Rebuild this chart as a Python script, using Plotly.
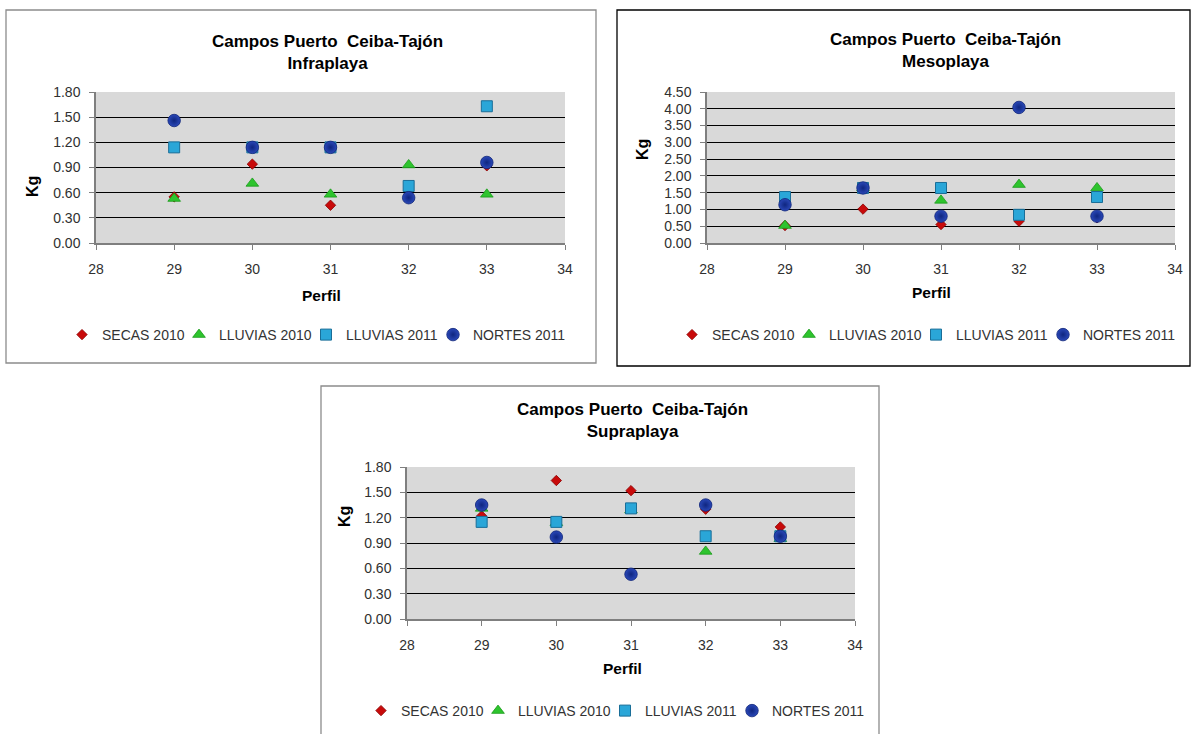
import plotly.graph_objects as go

# ---------------- data ----------------
perfil = [29, 30, 31, 32, 33]
series_names = ["SECAS 2010", "LLUVIAS 2010", "LLUVIAS 2011", "NORTES 2011"]

infra_secas_2010 = [0.55, 0.94, 0.45, 0.54, 0.92]
infra_lluvias_2010 = [0.53, 0.71, 0.58, 0.93, 0.58]
infra_lluvias_2011 = [1.14, 1.14, 1.14, 0.68, 1.63]
infra_nortes_2011 = [1.46, 1.14, 1.14, 0.54, 0.96]

meso_secas_2010 = [0.52, 1.01, 0.55, 0.65, 0.75]
meso_lluvias_2010 = [0.52, 1.64, 1.27, 1.74, 1.64]
meso_lluvias_2011 = [1.37, 1.64, 1.64, 0.84, 1.37]
meso_nortes_2011 = [1.14, 1.64, 0.80, 4.04, 0.80]

supra_secas_2010 = [1.22, 1.64, 1.52, 1.30, 1.09]
supra_lluvias_2010 = [1.31, 1.14, 1.29, 0.80, 0.95]
supra_lluvias_2011 = [1.15, 1.15, 1.31, 0.98, 0.98]
supra_nortes_2011 = [1.35, 0.97, 0.53, 1.35, 0.98]

x_ticks = [28, 29, 30, 31, 32, 33, 34]
titles = ["Infraplaya", "Mesoplaya", "Supraplaya"]
main_title = "Campos Puerto  Ceiba-Tajón"

# ---------------- layout helpers ----------------
W, H = 1195, 734
FONT = "Liberation Sans, Arial, sans-serif"


def px(x):
    return x / W


def py(y):
    return 1 - y / H


marker_styles = [
    dict(symbol="diamond", size=8, color="#C80A0A", line=dict(color="#8A0000", width=0.8)),
    dict(symbol="triangle-up", size=11, color="#2EC42E", line=dict(color="#1A9A1A", width=0.8)),
    dict(symbol="square", size=11, color="#2AA6D8", line=dict(color="#1A6E98", width=1)),
    dict(symbol="circle", size=12.5, color="#2A48B8", line=dict(color="#0F2478", width=0.8),
         gradient=dict(type="radial", color="#0F2680")),
]
# width reserved for each legend entry's label (tight spacing like the original)
legend_entry_widths = [72, 82, 82, 100]

charts = [
    dict(sfx="", data=[infra_secas_2010, infra_lluvias_2010, infra_lluvias_2011, infra_nortes_2011],
         plot=(96, 565, 92, 243), yr=(0, 1.8), dt=0.3, box=(6, 596, 10, 363), boxcol="#8C8C8C",
         title_xy=(328, 52), kg=(33, 187), perfil=(321, 296), leg=(320, 335), legname="legend"),
    dict(sfx="2", data=[meso_secas_2010, meso_lluvias_2010, meso_lluvias_2011, meso_nortes_2011],
         plot=(707, 1175, 92, 243), yr=(0, 4.5), dt=0.5, box=(617, 1190, 10, 366), boxcol="#000000",
         title_xy=(945, 51), kg=(642, 150), perfil=(932, 293), leg=(930, 335), legname="legend2"),
    dict(sfx="3", data=[supra_secas_2010, supra_lluvias_2010, supra_lluvias_2011, supra_nortes_2011],
         plot=(407, 855, 467, 619), yr=(0, 1.8), dt=0.3, box=(321, 879, 386, 745), boxcol="#8C8C8C",
         title_xy=(632, 420), kg=(344, 517), perfil=(622, 668), leg=(619, 711), legname="legend3"),
]

fig = go.Figure()
shapes = []
annotations = []
layout_axes = {}

for i, ch in enumerate(charts):
    sfx = ch["sfx"]
    for name, vals, ms, lw in zip(series_names, ch["data"], marker_styles, legend_entry_widths):
        fig.add_trace(go.Scatter(
            x=perfil, y=vals, mode="markers", name=name,
            marker=ms, xaxis="x" + sfx, yaxis="y" + sfx,
            legend=ch["legname"], showlegend=True, legendwidth=lw,
        ))
    x0, x1, y0, y1 = ch["plot"]
    layout_axes["xaxis" + sfx] = dict(
        domain=[px(x0), px(x1)], anchor="y" + sfx, range=[28, 34],
        tickvals=x_ticks, ticktext=[str(t) for t in x_ticks],
        showgrid=False, zeroline=False, showline=True, linecolor="#7F7F7F", linewidth=1.5,
        ticks="outside", ticklen=5, tickcolor="#7F7F7F", tickwidth=1.2,
        tickfont=dict(family=FONT, size=14, color="#303030"), ticklabelstandoff=7,
        fixedrange=True,
    )
    nt = int(round((ch["yr"][1] - ch["yr"][0]) / ch["dt"]))
    yt = [round(ch["yr"][0] + k * ch["dt"], 2) for k in range(nt + 1)]
    layout_axes["yaxis" + sfx] = dict(
        domain=[py(y1), py(y0)], anchor="x" + sfx, range=[ch["yr"][0], ch["yr"][1] + 1e-6],
        tickvals=yt, ticktext=["%.2f" % v for v in yt],
        showgrid=True, gridcolor="#000000", gridwidth=1.2, zeroline=False,
        showline=True, linecolor="#7F7F7F", linewidth=1.5,
        ticks="outside", ticklen=5, tickcolor="#7F7F7F", tickwidth=1.2,
        tickfont=dict(family=FONT, size=14, color="#303030"), ticklabelstandoff=6,
        fixedrange=True,
    )
    # chart border
    bx0, bx1, by0, by1 = ch["box"]
    shapes.append(dict(type="rect", xref="paper", yref="paper",
                       x0=px(bx0), x1=px(bx1), y0=py(by1), y1=py(by0),
                       line=dict(color=ch["boxcol"], width=1.3), fillcolor="rgba(0,0,0,0)",
                       layer="below"))
    # title
    tx, ty = ch["title_xy"]
    annotations.append(dict(xref="paper", yref="paper", x=px(tx), y=py(ty),
                            xanchor="center", yanchor="middle", showarrow=False,
                            text="<b>%s</b><br><b>%s</b>" % (main_title, titles[i]),
                            font=dict(family=FONT, size=17, color="#000000")))
    # axis titles
    kx, ky = ch["kg"]
    annotations.append(dict(xref="paper", yref="paper", x=px(kx), y=py(ky),
                            xanchor="center", yanchor="middle", showarrow=False, textangle=-90,
                            text="<b>Kg</b>", font=dict(family=FONT, size=16, color="#000000")))
    pxx, pyy = ch["perfil"]
    annotations.append(dict(xref="paper", yref="paper", x=px(pxx), y=py(pyy),
                            xanchor="center", yanchor="middle", showarrow=False,
                            text="<b>Perfil</b>", font=dict(family=FONT, size=15.5, color="#000000")))

legend_common = dict(orientation="h", xanchor="center", yanchor="middle",
                     bgcolor="rgba(0,0,0,0)", itemwidth=30, tracegroupgap=0,
                     font=dict(family=FONT, size=14, color="#333333"), itemclick=False)

fig.update_layout(
    width=W, height=H, margin=dict(l=0, r=0, t=0, b=0, autoexpand=False),
    paper_bgcolor="white", plot_bgcolor="#D9D9D9",
    shapes=shapes, annotations=annotations,
    legend=dict(legend_common, x=px(charts[0]["leg"][0]), y=py(charts[0]["leg"][1])),
    legend2=dict(legend_common, x=px(charts[1]["leg"][0]), y=py(charts[1]["leg"][1])),
    legend3=dict(legend_common, x=px(charts[2]["leg"][0]), y=py(charts[2]["leg"][1])),
    **layout_axes,
)

fig.write_html("out.html", config={"displayModeBar": False},
               post_script="document.body.style.margin='0px';")
